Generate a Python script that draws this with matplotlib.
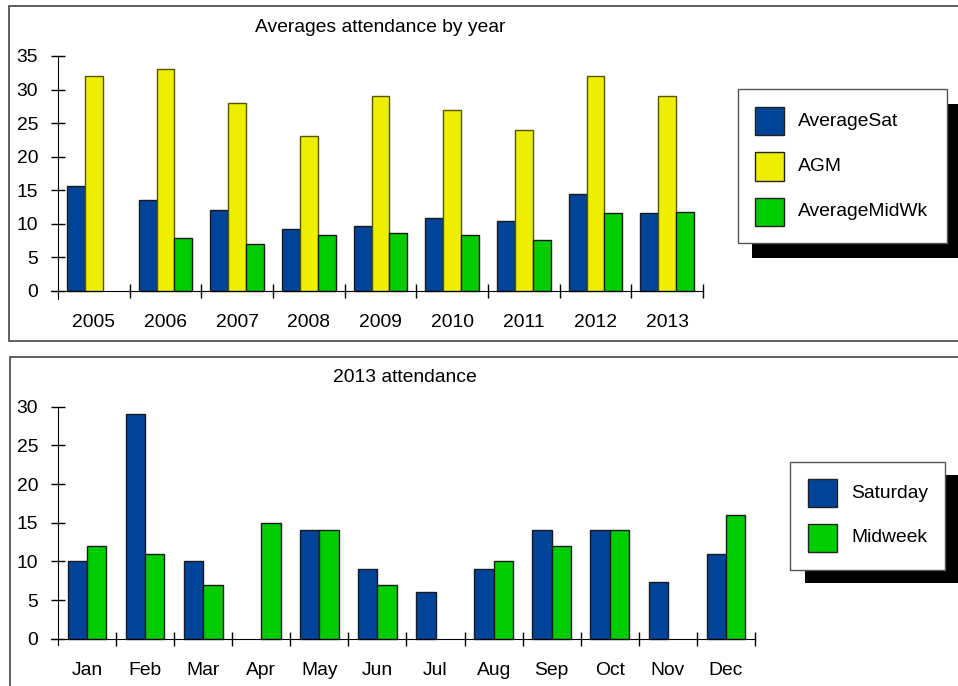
import matplotlib.pyplot as plt
import numpy as np
from matplotlib.patches import Rectangle

plt.rcParams['font.family'] = ['Liberation Sans', 'DejaVu Sans']

W, H = 958, 686

years = ['2005', '2006', '2007', '2008', '2009', '2010', '2011', '2012', '2013']
average_sat = [15.6, 13.5, 12.0, 9.25, 9.65, 10.8, 10.35, 14.4, 11.6]
agm = [32, 33, 28, 23, 29, 27, 24, 32, 29]
average_midwk = [np.nan, 7.9, 7.0, 8.35, 8.65, 8.35, 7.5, 11.6, 11.8]

months = ['Jan', 'Feb', 'Mar', 'Apr', 'May', 'Jun',
          'Jul', 'Aug', 'Sep', 'Oct', 'Nov', 'Dec']
saturday = [10, 29, 10, np.nan, 14, 9, 6, 9, 14, 14, 7.3, 11]
midweek = [12, 11, 7, 15, 14, 7, np.nan, 10, 12, 14, np.nan, 16]

BLUE = '#004499'
YELLOW = '#eeee00'
GREEN = '#00cc00'
FS = 13.9


def px_rect(x0, y0, x1, y1):
    """pixel box (top-left origin) -> figure fraction [left, bottom, w, h]"""
    return [x0 / W, 1 - y1 / H, (x1 - x0) / W, (y1 - y0) / H]


def panel_frame(fig, x0, y0, x1, y1):
    l, b, w, h = px_rect(x0, y0, x1, y1)
    fig.patches.append(Rectangle((l, b), w, h, transform=fig.transFigure,
                                 facecolor='white', edgecolor='#444444',
                                 lw=1.2, zorder=0))


def legend_box(fig, box, shadow_off, names, colors, sw_x, sw_y0, step, text_x):
    x0, y0, x1, y1 = box
    dx, dy = shadow_off
    l, b, w, h = px_rect(x0 + dx, y0 + dy, x1 + dx, y1 + dy)
    fig.patches.append(Rectangle((l, b), w, h, transform=fig.transFigure,
                                 facecolor='black', edgecolor='none', zorder=3))
    l, b, w, h = px_rect(x0, y0, x1, y1)
    fig.patches.append(Rectangle((l, b), w, h, transform=fig.transFigure,
                                 facecolor='white', edgecolor='#555555',
                                 lw=1, zorder=4))
    for i, (name, col) in enumerate(zip(names, colors)):
        ty = sw_y0 + i * step
        l, b, w, h = px_rect(sw_x, ty, sw_x + 29, ty + 28)
        fig.patches.append(Rectangle((l, b), w, h, transform=fig.transFigure,
                                     facecolor=col, edgecolor='#222222',
                                     lw=1, zorder=5))
        fig.text(text_x / W, 1 - (ty + 14) / H, name, fontsize=FS,
                 va='center', ha='left', zorder=6)


def style_axis(ax, n, ymax, ystep, ymin):
    for s in ['top', 'right']:
        ax.spines[s].set_visible(False)
    ax.spines['bottom'].set_position(('data', 0))
    ax.set_xlim(-0.5, n - 0.5)
    ax.set_ylim(ymin, ymax)
    ax.spines['left'].set_bounds(ymin, ymax)
    # make bottom line run out to the end of the y tick marks
    xpx = (n) / (ax.get_position().width * W)
    ax.spines['bottom'].set_bounds(-0.5 - 7 * xpx, n - 0.5)
    ax.set_yticks(np.arange(0, ymax + 0.1, ystep))
    ax.tick_params(axis='y', direction='inout', length=10, width=1,
                   pad=9.4, labelsize=FS)
    ax.set_xticks(np.arange(n))
    ax.set_xticks(np.arange(n) + 0.5, minor=True)
    ax.tick_params(axis='x', which='major', length=0, pad=16.5, labelsize=FS)
    ax.tick_params(axis='x', which='minor', direction='inout', length=9.5,
                   width=1)
    ax.patch.set_alpha(0)


fig = plt.figure(figsize=(W / 100, H / 100), dpi=100)

# top panel
panel_frame(fig, 9, 6, 970, 341)
ax1 = fig.add_axes(px_rect(58, 56, 703, 298.7), zorder=2)
x = np.arange(len(years))
bw = 0.25
ax1.bar(x - bw, average_sat, bw, color=BLUE, edgecolor='#1a1a1a', lw=1)
ax1.bar(x, agm, bw, color=YELLOW, edgecolor='#555500', lw=1)
ax1.bar(x + bw, average_midwk, bw, color=GREEN, edgecolor='#1a1a1a', lw=1)
style_axis(ax1, len(years), 35, 5, -1.19)
ax1.set_xticklabels(years)
fig.text(380 / W, 1 - 27 / H, 'Averages attendance by year', fontsize=FS,
         ha='center', va='center')
legend_box(fig, (738, 89, 947, 243), (14, 15),
           ['AverageSat', 'AGM', 'AverageMidWk'], [BLUE, YELLOW, GREEN],
           755, 107, 45.5, 798)

# bottom panel
panel_frame(fig, 10, 357, 970, 700)
ax2 = fig.add_axes(px_rect(58, 406.7, 755, 645.3), zorder=2)
x = np.arange(len(months))
bw = 1 / 3
ax2.bar(x - bw / 2, saturday, bw, color=BLUE, edgecolor='#1a1a1a', lw=1)
ax2.bar(x + bw / 2, midweek, bw, color=GREEN, edgecolor='#1a1a1a', lw=1)
style_axis(ax2, len(months), 30, 5, -0.85)
ax2.set_xticklabels(months)
fig.text(405 / W, 1 - 378 / H, '2013 attendance', fontsize=FS,
         ha='center', va='center')
legend_box(fig, (790, 462, 945, 570), (15, 13),
           ['Saturday', 'Midweek'], [BLUE, GREEN],
           808, 479, 45, 851)

fig.savefig('out.png', dpi=100)
